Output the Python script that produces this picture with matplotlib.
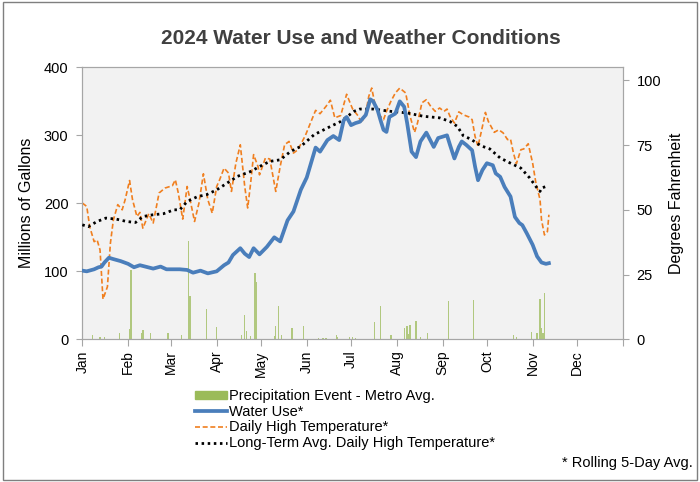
import matplotlib
matplotlib.use("Agg")
import matplotlib.pyplot as plt
from matplotlib.patches import Patch, Rectangle
from matplotlib.lines import Line2D

plt.rcParams['font.family'] = ['Liberation Sans', 'DejaVu Sans']

# day of year (Jan 1 = 0), 2024 is a leap year
month_starts = [0, 31, 60, 91, 121, 152, 182, 213, 244, 274, 305, 335]
month_labels = ['Jan', 'Feb', 'Mar', 'Apr', 'May', 'Jun',
                'Jul', 'Aug', 'Sep', 'Oct', 'Nov', 'Dec']

# water use, rolling 5-day avg (millions of gallons)
water_day = [0, 3, 8, 11, 13, 15, 18, 21, 26, 31, 35, 39, 48, 53, 57, 66, 71, 75, 80, 85,
             91, 96, 99, 102, 107, 110, 113, 116, 120, 125, 130, 134, 139, 143, 148, 152, 158, 161, 166, 170,
             174, 177, 179, 182, 185, 188, 192, 195, 197, 200, 202, 204, 206, 208, 212, 215, 218, 220, 223, 226,
             229, 233, 238, 241, 247, 249, 252, 255, 257, 260, 264, 266, 268, 271, 274, 278, 280, 283, 286, 290,
             293, 296, 298, 301, 305, 308, 311, 314, 316]
water_use = [101, 100, 103, 106, 107, 113, 120, 118, 115, 111, 106, 109, 104, 107, 103, 103, 102, 98, 101, 97,
             100, 109, 113, 124, 134, 126, 121, 134, 125, 136, 150, 144, 175, 188, 220, 238, 282, 276, 293, 299,
             293, 322, 327, 315, 318, 320, 330, 353, 350, 337, 322, 308, 305, 327, 332, 350, 342, 318, 276, 268,
             291, 304, 283, 296, 300, 286, 266, 283, 291, 286, 278, 254, 234, 249, 259, 256, 244, 239, 224, 210,
             180, 171, 168, 156, 139, 122, 113, 111, 112]

# daily high temperature, rolling 5-day avg (F)
temp_day = [0, 3, 5, 8, 10, 12, 14, 17, 19, 21, 24, 27, 29, 32, 34, 37, 39, 41, 45, 48,
            52, 56, 61, 63, 65, 68, 71, 73, 76, 79, 82, 85, 88, 91, 93, 96, 99, 101, 104, 107,
            110, 112, 114, 116, 119, 120, 124, 127, 131, 134, 137, 140, 143, 146, 151, 158, 161, 165, 168, 171,
            175, 179, 183, 187, 189, 192, 194, 196, 198, 201, 204, 206, 209, 212, 215, 219, 222, 225, 227, 230,
            233, 236, 239, 242, 245, 247, 249, 252, 255, 258, 262, 264, 266, 268, 271, 273, 275, 279, 282, 285,
            288, 290, 292, 294, 297, 299, 302, 305, 307, 310, 311, 313, 315, 316]
temp_high = [52.6, 51.3, 43.5, 37.7, 38.4, 34.5, 15.5, 20.3, 37.0, 46.0, 52.0, 50.0, 53.9, 61.3, 53.9, 47.4, 49.0, 42.9, 48.5, 44.9,
             56.5, 58.4, 59.3, 61.6, 56.5, 46.4, 59.0, 53.9, 45.5, 52.6, 63.9, 53.9, 48.7, 59.0, 61.6, 66.1, 64.2, 57.1, 68.0, 75.1,
             59.0, 50.7, 60.3, 71.3, 66.7, 63.5, 70.0, 69.6, 57.1, 66.7, 75.1, 76.4, 71.9, 73.2, 78.6, 88.4, 87.1, 89.9, 92.3, 85.5,
             86.4, 94.6, 89.0, 86.1, 83.5, 87.4, 93.8, 97.0, 91.3, 86.7, 84.8, 88.0, 91.9, 95.1, 97.0, 95.1, 86.1, 79.9, 83.5, 91.3,
             92.5, 89.9, 88.0, 89.3, 88.0, 88.9, 86.1, 83.5, 87.8, 86.7, 85.8, 84.8, 78.3, 74.5, 82.2, 87.6, 84.1, 79.9, 80.9, 79.7,
             77.1, 77.3, 71.9, 67.8, 73.2, 73.5, 75.5, 68.0, 61.0, 53.9, 46.1, 40.3, 41.6, 48.1]

# long-term average daily high (F)
norm_day = [0, 4, 10, 16, 23, 30, 36, 41, 48, 55, 62, 66, 71, 78, 84, 91, 98, 105, 114, 120,
            127, 134, 141, 148, 157, 166, 175, 184, 188, 197, 209, 220, 231, 242, 249, 254, 258, 263, 270, 276,
            283, 290, 297, 303, 308, 310, 311, 314]
norm_high = [44.2, 43.5, 45.5, 46.8, 46.4, 45.5, 45.1, 47.4, 48.1, 48.5, 50.0, 50.0, 53.2, 55.1, 55.8, 57.7, 60.3, 62.9, 64.8, 66.7,
             68.7, 69.3, 72.5, 74.5, 79.0, 81.6, 84.1, 88.0, 88.9, 88.9, 88.0, 87.4, 86.1, 85.5, 84.1, 82.2, 78.6, 77.3, 74.7, 73.5,
             70.0, 68.0, 66.1, 62.3, 58.4, 57.1, 58.4, 59.0]

# precipitation events, drawn on the left scale
precip_day = [7, 12, 15, 25, 32, 33, 40, 41, 46, 58, 67, 72, 73, 84, 91, 108, 110, 111, 114, 117,
              118, 130, 131, 133, 135, 142, 150, 160, 163, 165, 172, 173, 181, 183, 185, 198, 202, 209, 218, 220,
              221, 222, 226, 229, 234, 248, 265, 292, 294, 304, 308, 310, 311, 312, 313]
precip_val = [7, 3, 3.5, 10, 15, 102, 10, 14, 10, 10, 6, 145, 64, 45, 18, 7, 36, 12, 5, 97,
              84, 5, 20, 49, 7, 16, 20, 2, 2, 2, 6, 4, 3, 4, 2, 26, 49, 7, 16, 19,
              8, 21, 27, 3, 10, 56, 58, 7, 3, 11, 9, 60, 17, 10, 68]

c_green = '#9BBB59'
c_blue = '#4A7EBB'
c_orange = '#F07F1F'
c_spine = '#A6A6A6'

fig = plt.figure(figsize=(7.0, 4.82), dpi=100)
fig.patches.append(Rectangle((0.004, 0.005), 0.992, 0.99, transform=fig.transFigure,
                             fill=False, edgecolor='#7F7F7F', linewidth=1.0))

ax = fig.add_axes([0.1176, 0.296, 0.772, 0.5643])
ax.set_facecolor('#F2F2F2')
ax2 = ax.twinx()

ax.bar(precip_day, precip_val, width=0.9, color=c_green, alpha=0.75, zorder=1)
ax2.plot(norm_day, norm_high, color='black', linewidth=2.0, linestyle=(0, (0.9, 1.3)),
         dash_capstyle='butt', zorder=3)
ax2.plot(temp_day, temp_high, color=c_orange, linewidth=1.2, linestyle=(0, (3, 1.6)), zorder=2)
ax2.plot(water_day, water_use, color=c_blue, linewidth=2.7, zorder=4,
         transform=ax.transData)

ax.set_xlim(0, 366)
ax.set_ylim(0, 400)
ax2.set_ylim(0, 105)
ax.set_yticks([0, 100, 200, 300, 400])
ax2.set_yticks([0, 25, 50, 75, 100])
ax.set_xticks(month_starts + [366])
ax.set_xticklabels(month_labels + [''], rotation=90, fontsize=10)
ax.tick_params(axis='y', labelsize=10.5, color=c_spine, length=4, pad=6)
ax.tick_params(axis='x', color=c_spine, length=5, pad=3)
ax2.tick_params(axis='y', labelsize=10.5, color=c_spine, length=4, pad=6)
for a in (ax, ax2):
    for s in a.spines.values():
        s.set_color(c_spine)

fig.text(0.516, 0.921, '2024 Water Use and Weather Conditions', ha='center', va='center',
         fontsize=15, fontweight='bold', color='#404040')
fig.text(27 / 700, 1 - 203 / 482, 'Millions of Gallons', rotation=90, ha='center', va='center',
         fontsize=11.5)
fig.text(676 / 700, 1 - 203 / 482, 'Degrees Fahrenheit', rotation=90, ha='center', va='center',
         fontsize=11.5)

handles = [Patch(color=c_green),
           Line2D([], [], color=c_blue, linewidth=2.7),
           Line2D([], [], color=c_orange, linewidth=1.2, linestyle=(0, (3, 1.6))),
           Line2D([], [], color='black', linewidth=2.0, linestyle=(0, (0.9, 1.3)))]
labels = ['Precipitation Event - Metro Avg.', 'Water Use*', 'Daily High Temperature*',
          'Long-Term Avg. Daily High Temperature*']
fig.legend(handles, labels, loc='upper left', bbox_to_anchor=(195 / 700, 1 - 389 / 482),
           frameon=False, fontsize=10.5, handlelength=2.2, handleheight=0.5,
           handletextpad=0.15, labelspacing=0.12, borderpad=0, borderaxespad=0)

fig.text(693 / 700, 1 - 463 / 482, '* Rolling 5-Day Avg.', ha='right', va='center', fontsize=10.5)

fig.savefig('out.png', dpi=100)
